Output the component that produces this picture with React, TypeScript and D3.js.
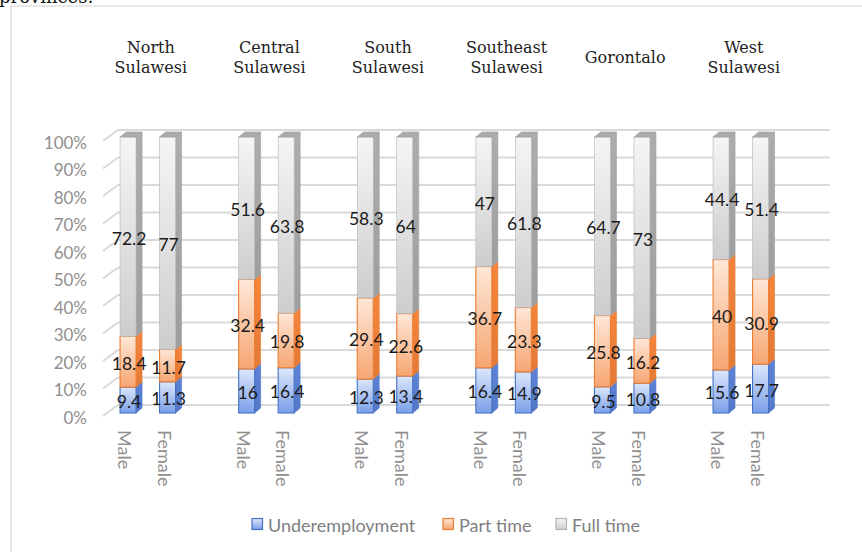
import React from "react";
import * as d3 from "d3";

const provinces = ["North Sulawesi", "Central Sulawesi", "South Sulawesi", "Southeast Sulawesi", "Gorontalo", "West Sulawesi"];
const provinceLines = [["North", "Sulawesi"], ["Central", "Sulawesi"], ["South", "Sulawesi"], ["Southeast", "Sulawesi"], ["Gorontalo"], ["West", "Sulawesi"]];
const genders = ["Male", "Female"];
const seriesNames = ["Underemployment", "Part time", "Full time"];
// values per province: [male, female]
const underemployment = [[9.4, 11.3], [16, 16.4], [12.3, 13.4], [16.4, 14.9], [9.5, 10.8], [15.6, 17.7]];
const partTime = [[18.4, 11.7], [32.4, 19.8], [29.4, 22.6], [36.7, 23.3], [25.8, 16.2], [40, 30.9]];
const fullTime = [[72.2, 77], [51.6, 63.8], [58.3, 64], [47, 61.8], [64.7, 73], [44.4, 51.4]];
const yTicks = [0, 10, 20, 30, 40, 50, 60, 70, 80, 90, 100];

const seriesStyle = [
  { top: "#dde7fb", bottom: "#7b9fe9", side: "#5478c6", stroke: "#4472c4" },
  { top: "#ffe7d7", bottom: "#f6a672", side: "#e27a36", stroke: "#ed7d31" },
  { top: "#f5f5f5", bottom: "#cdcdcd", side: "#9e9e9e", stroke: "#b5b5b5" },
];

const W = 862, H = 552;
const DX = 6, DY = 5; // bar depth
const WDX = 15, WDY = 11; // wall depth
const BAR_W = 16;
const FONT = "Lato, 'Open Sans', sans-serif";

export default function App() {
  const xGroup = d3.scaleBand<string>().domain(provinces).range([88.5, 88.5 + 6 * 118.6]).paddingInner(0);
  const xInner = d3.scalePoint<string>().domain(genders).range([-19.75, 19.75]);
  const yBar = d3.scaleLinear().domain([0, 100]).range([413, 137]);
  const yBack = d3.scaleLinear().domain([0, 100]).range([405, 130]);
  const backLeft = 118, backRight = 830;

  const all = [underemployment, partTime, fullTime];

  const bars: React.ReactNode[] = [];
  const labels: React.ReactNode[] = [];
  provinces.forEach((p, pi) => {
    const gc = (xGroup(p) as number) + xGroup.step() / 2;
    genders.forEach((g, gi) => {
      const cx = gc + (xInner(g) as number);
      const x0 = cx - BAR_W / 2;
      const vals = all.map((s) => s[pi][gi]);
      const total = d3.sum(vals);
      let acc = 0;
      vals.forEach((v, si) => {
        const a = (acc / total) * 100;
        const b = ((acc + v) / total) * 100;
        acc += v;
        const yt = yBar(b), yb = yBar(a);
        const st = seriesStyle[si];
        const side = d3.path();
        side.moveTo(x0 + BAR_W, yt);
        side.lineTo(x0 + BAR_W + DX, yt - DY);
        side.lineTo(x0 + BAR_W + DX, yb - DY);
        side.lineTo(x0 + BAR_W, yb);
        side.closePath();
        bars.push(
          <g key={`b-${pi}-${gi}-${si}`}>
            <path d={side.toString()} fill={`url(#side${si})`} stroke={st.side} strokeWidth={0.6} />
            <rect x={x0} y={yt} width={BAR_W} height={yb - yt} fill={`url(#grad${si})`} stroke={st.stroke} strokeWidth={si === 2 ? 0.6 : 1.1} />
          </g>
        );
        if (si === 2) {
          const top = d3.path();
          top.moveTo(x0, yt);
          top.lineTo(x0 + DX, yt - DY);
          top.lineTo(x0 + BAR_W + DX, yt - DY);
          top.lineTo(x0 + BAR_W, yt);
          top.closePath();
          bars.push(<path key={`t-${pi}-${gi}`} d={top.toString()} fill="#ababab" stroke="#a0a0a0" strokeWidth={0.6} />);
        }
        labels.push(
          <text key={`l-${pi}-${gi}-${si}`} x={cx + 1} y={yBar((a + b) / 2) + 1.5} textAnchor="middle" dominantBaseline="central" fontFamily={FONT} fontSize={17.5} fill="#1a1a1a">
            {String(v)}
          </text>
        );
      });
      labels.push(
        <text key={`c-${pi}-${gi}`} transform={`translate(${cx - 10},430) rotate(90)`} fontFamily={FONT} fontSize={18} fill="#8f8f8f">
          {g}
        </text>
      );
    });
  });

  const legendItems = [
    { x: 252, tx: 268 },
    { x: 443, tx: 459 },
    { x: 556, tx: 572 },
  ];

  return (
    <div style={{ position: "fixed", left: 0, top: 0, width: W, height: H, background: "#fff" }}>
      <svg width={W} height={H} style={{ display: "block" }}>
        <defs>
          {seriesStyle.map((s, i) => (
            <linearGradient key={`g${i}`} id={`grad${i}`} x1="0" y1="0" x2="0" y2="1">
              <stop offset="0%" stopColor={s.top} />
              <stop offset="100%" stopColor={s.bottom} />
            </linearGradient>
          ))}
          {seriesStyle.map((s, i) => (
            <linearGradient key={`s${i}`} id={`side${i}`} x1="0" y1="0" x2="0" y2="1">
              <stop offset="0%" stopColor={d3.color(s.side)!.brighter(0.25).toString()} />
              <stop offset="100%" stopColor={s.side} />
            </linearGradient>
          ))}
        </defs>
        <text x={-1} y={3} fontFamily="'DejaVu Serif', serif" fontSize={18} fill="#111">provinces:</text>
        <rect x={11} y={6} width={W + 20} height={H + 20} fill="none" stroke="#d9d9d9" strokeWidth={1.2} />

        {provinceLines.map((lines, pi) => {
          const gc = (xGroup(provinces[pi]) as number) + xGroup.step() / 2 + 3;
          const baseY = lines.length === 1 ? 63 : 53;
          return (
            <text key={`p${pi}`} x={gc} y={baseY} textAnchor="middle" fontFamily="'DejaVu Serif', serif" fontSize={16} fill="#222">
              {lines.map((ln, li) => (
                <tspan key={li} x={gc} y={baseY + li * 20}>{ln}</tspan>
              ))}
            </text>
          );
        })}

        {yTicks.map((t) => (
          <g key={`grid${t}`}>
            <line x1={backLeft - WDX} y1={yBack(t) + WDY} x2={backLeft} y2={yBack(t)} stroke="#d9d9d9" strokeWidth={2} />
            <line x1={backLeft} y1={yBack(t)} x2={backRight} y2={yBack(t)} stroke="#d9d9d9" strokeWidth={2} />
            <text x={87} y={yBack(t) + WDY + 1} textAnchor="end" dominantBaseline="central" fontFamily={FONT} fontSize={17} fill="#8f8f8f">
              {`${t}%`}
            </text>
          </g>
        ))}

        {bars}
        {labels}

        {seriesNames.map((n, i) => (
          <g key={`leg${i}`}>
            <rect x={legendItems[i].x} y={518.5} width={10.5} height={11} fill={`url(#grad${i})`} stroke={seriesStyle[i].stroke} strokeWidth={1.2} />
            <text x={legendItems[i].tx} y={524.5} dominantBaseline="central" fontFamily={FONT} fontSize={18} fill="#7f7f7f">
              {n}
            </text>
          </g>
        ))}
      </svg>
    </div>
  );
}
